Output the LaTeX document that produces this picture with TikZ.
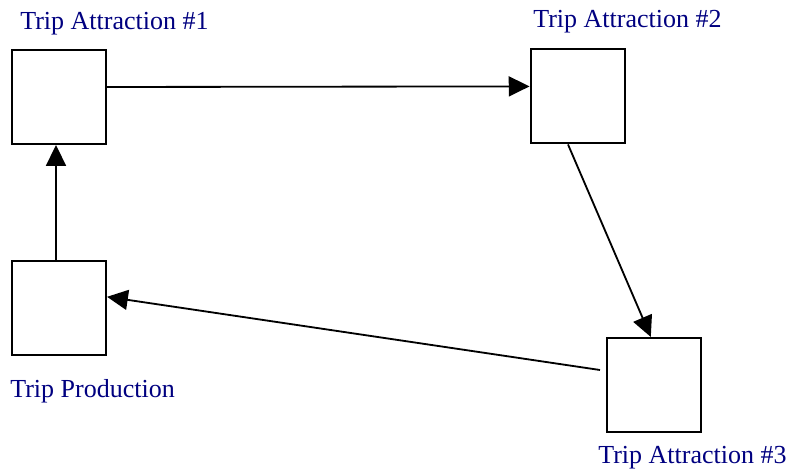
\documentclass[tikz,border=0pt]{standalone}
\usepackage{fontspec}
\setmainfont{Liberation Serif}
\usetikzlibrary{arrows.meta}
\definecolor{labelblue}{RGB}{0,0,128}

\begin{document}
\begin{tikzpicture}
	\tikzstyle{zone} = [rectangle, draw, line width=1.5pt, minimum size=2.35cm, inner sep=0pt]
	\tikzstyle{caption} = [anchor=base west, inner sep=0pt, text=labelblue, font=\fontsize{18.5}{22}\selectfont]
	\tikzstyle{connector} = [draw, line width=1.3pt, -{Triangle[length=0.52cm, width=0.5cm]}]
\useasboundingbox (0,0) rectangle (19.75,-11.9);
\node [zone] at (1.475,-2.425) (a1) {};
\node [zone] at (14.44,-2.41) (a2) {};
\node [zone] at (16.36,-9.625) (a3) {};
\node [zone] at (1.475,-7.71) (prod) {};
\node [caption] at (0.5,-0.75) (a1label) {Trip Attraction \#1};
\node [caption] at (13.325,-0.7) (a2label) {Trip Attraction \#2};
\node [caption] at (14.95,-11.575) (a3label) {Trip Attraction \#3};
\node [caption] at (0.25,-9.925) (prodlabel) {Trip Production};
\coordinate (a3out) at (15.0,-9.25);
\path [connector] ([yshift=0.25cm]a1.east) -- ([yshift=0.25cm]a2.west);
\path [connector] ([xshift=-0.24cm]a2.south) -- ([xshift=-0.09cm]a3.north);
\path [connector] (a3out) -- ([yshift=0.29cm]prod.east);
\path [connector] ([xshift=-0.075cm]prod.north) -- ([xshift=-0.075cm]a1.south);
\end{tikzpicture}
\end{document}
